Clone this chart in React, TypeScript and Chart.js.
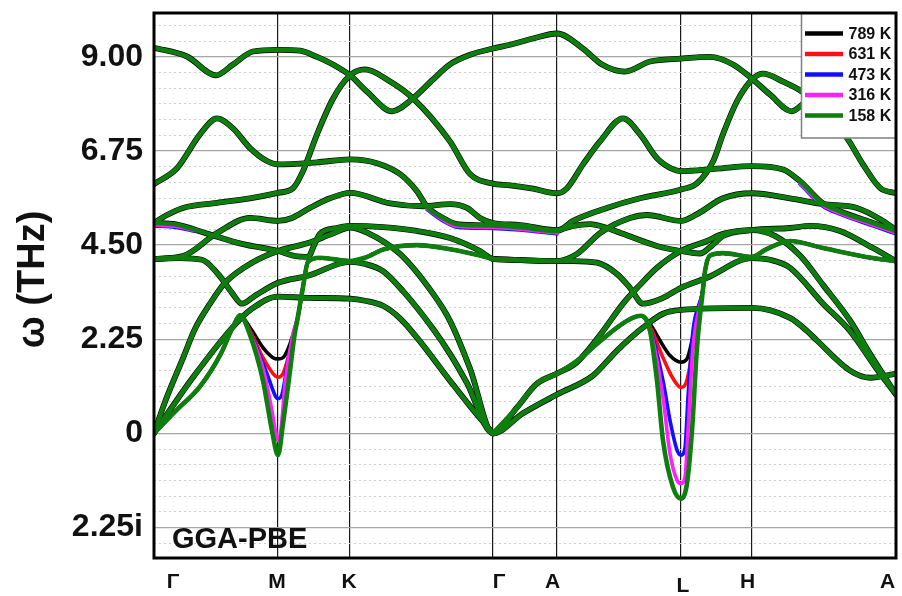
import React, { useEffect, useRef } from 'react';
import { Chart, registerables } from 'chart.js';

Chart.register(...registerables);

type Pt = [number, number];

// Path coordinate (arbitrary path-length units, 0..100) of the high-symmetry points
const symmetryPoints = [16.71, 26.42, 45.69, 54.31, 71.02, 80.59];
const pathLabels = ['Γ', 'M', 'K', 'Γ', 'A', 'L', 'H', 'A'];
const pathLabelPos = [2.56, 16.58, 26.28, 46.5, 53.71, 71.29, 79.99, 98.85];

// Frequency axis (THz); negative values are imaginary frequencies
const yMajorTicks = [-2.25, 0, 2.25, 4.5, 6.75, 9];
const yMinorTicks = [
  -2.625, -1.875, -1.5, -1.125, -0.75, -0.375, 0.375, 0.75, 1.125, 1.5, 1.875,
  2.625, 3.0, 3.375, 3.75, 4.125, 4.875, 5.25, 5.625, 6.0, 6.375, 7.125, 7.5,
  7.875, 8.25, 8.625, 9.375, 9.75,
];

const temperatures = ['789 K', '631 K', '473 K', '316 K', '158 K'];

// Phonon branches that are (nearly) the same at every temperature: [path position, THz]
const band1: Pt[] = [
  [0, 9.22], [4.45, 9.01], [8.36, 8.56], [10.65, 8.82], [13.34, 9.13], [16.71, 9.17],
  [19.68, 9.15], [21.97, 9.0], [24.12, 8.82], [26.42, 8.56], [28.71, 8.17], [32.08, 7.7],
  [34.91, 8.01], [37.6, 8.46], [39.89, 8.82], [42.59, 9.05], [45.69, 9.2], [47.98, 9.29],
  [51.08, 9.44], [54.31, 9.56], [57.82, 9.2], [60.38, 8.82], [63.48, 8.65], [66.85, 8.89],
  [71.02, 8.96], [74.93, 9.0], [78.03, 8.82], [80.59, 8.48], [83.02, 8.1], [85.98, 7.7],
  [87.33, 7.86], [91.11, 8.55], [95.15, 9.2], [100, 9.53],
];
const band2: Pt[] = [
  [0, 5.03], [1.75, 5.22], [3.91, 5.39], [8.49, 5.51], [12.94, 5.62], [16.71, 5.75],
  [18.73, 5.86], [20.08, 6.27], [21.97, 7.15], [24.12, 8.0], [26.42, 8.56], [28.44, 8.7],
  [31.5, 8.45], [34.91, 8.01], [39.89, 6.98], [42.59, 6.2], [45.69, 5.97], [47.98, 5.93],
  [51.08, 5.85], [54.31, 5.74], [55.66, 5.86], [57.82, 6.43], [60.11, 6.98], [63.21, 7.53],
  [65.5, 7.15], [67.79, 6.58], [70.0, 6.31], [71.02, 6.27], [75.88, 6.33], [80.59, 6.39],
  [84.77, 6.31], [87.06, 6.03], [90.16, 5.5], [92.45, 5.31], [96.9, 5.03], [100, 4.84],
];
const band3: Pt[] = [
  [0, 5.96], [3.1, 6.34], [6.2, 7.15], [8.49, 7.53], [10.65, 7.29], [12.94, 6.82],
  [15.23, 6.51], [16.71, 6.43], [21.97, 6.48], [26.42, 6.55], [30.05, 6.46], [33.15, 6.2],
  [35.44, 5.79], [36.79, 5.42], [38.95, 5.15], [40.84, 5.0], [45.69, 4.97], [49.33, 4.93],
  [54.31, 4.84], [56.47, 5.08], [61.05, 5.39], [65.5, 5.62], [71.02, 5.83], [73.18, 5.98],
  [75.34, 6.5], [76.68, 7.15], [78.57, 7.94], [80.73, 8.48], [82.08, 8.6], [84.77, 8.41],
  [87.33, 8.17], [90.5, 7.65], [93.4, 7.06], [95.55, 6.43], [97.84, 5.87], [100, 5.74],
];
const band4: Pt[] = [
  [0, 4.17], [3.91, 4.24], [8.49, 4.79], [12.94, 5.15], [16.71, 5.08], [18.6, 5.15],
  [21.02, 5.39], [23.72, 5.62], [26.42, 5.75], [31.81, 5.5], [36.25, 5.43], [39.89, 5.48],
  [42.18, 5.39], [43.94, 5.15], [45.69, 5.03], [49.33, 4.98], [54.31, 4.86], [56.47, 4.96],
  [58.76, 5.0], [61.05, 4.91], [63.21, 4.77], [67.79, 4.48], [71.02, 4.36], [73.58, 4.3],
  [74.93, 4.45], [75.88, 4.6], [76.68, 4.72], [80.59, 4.86], [85.71, 4.91], [88.41, 4.96],
  [92.45, 4.84], [96.9, 4.43], [100, 4.12],
];
const band5: Pt[] = [
  [0, 5.03], [2.83, 5.0], [7.28, 4.77], [11.86, 4.53], [16.71, 4.36], [19.0, 4.24],
  [20.75, 4.22], [21.7, 4.55], [22.37, 4.77], [24.66, 4.91], [26.42, 4.96], [30.86, 4.93],
  [35.44, 4.84], [39.89, 4.67], [43.94, 4.36], [45.69, 4.17], [49.33, 4.14], [54.31, 4.12],
  [57.01, 4.29], [60.11, 4.79], [64.15, 5.15], [66.44, 5.22], [71.02, 5.08], [73.18, 5.24],
  [76.68, 5.62], [80.59, 5.74], [85.71, 5.62], [90.16, 5.48], [94.74, 5.39], [98.25, 5.08],
  [100, 4.86],
];
const band6: Pt[] = [
  [0, 0], [1.48, 0.75], [3.91, 1.8], [5.53, 2.5], [7.55, 3.1], [9.57, 3.6], [13.21, 4.08],
  [16.71, 4.36], [20.75, 4.55], [23.99, 4.77], [26.42, 4.92], [28.71, 4.8], [33.15, 4.29],
  [37.6, 3.34], [39.89, 2.69], [42.59, 1.55], [45.69, 0], [48.92, 0.62], [51.62, 1.19],
  [54.31, 1.43], [57.01, 1.7], [60.11, 2.35], [63.21, 3.1], [65.5, 3.55], [67.79, 3.96],
  [71.02, 4.36], [74.53, 4.6], [76.68, 4.77], [80.59, 4.86], [83.69, 4.72], [87.06, 4.25],
  [90.16, 3.55], [93.8, 2.7], [96.5, 1.9], [100, 0.93],
];
const band7: Pt[] = [
  [0, 4.17], [3.5, 4.19], [6.47, 4.15], [8.63, 3.81], [10.51, 3.36], [11.86, 3.1],
  [13.61, 3.29], [16.71, 3.6], [20.75, 3.77], [26.42, 4.1], [28.44, 4.05], [30.86, 3.88],
  [33.56, 3.4], [37.6, 2.5], [39.89, 1.9], [42.18, 1.2], [45.69, 0], [49.73, 0.48],
  [54.31, 0.93], [59.16, 1.38], [62.4, 1.98], [65.9, 2.53], [68.6, 2.86], [71.02, 2.95],
  [80.59, 3.0], [85.71, 2.76], [88.0, 2.45], [89.35, 2.22], [93.8, 1.5], [96.5, 1.33],
  [100, 1.43],
];
const band8: Pt[] = [
  [0, 0], [5.26, 1.34], [10.92, 2.6], [13.21, 2.98], [16.71, 3.27], [20.75, 3.24],
  [26.42, 3.22], [28.44, 3.17], [30.86, 3.05], [33.15, 2.75], [35.44, 2.29], [39.89, 1.26],
  [42.59, 0.65], [45.69, 0],
];
const band9: Pt[] = [
  [45.69, 4.17], [54.31, 4.12], [56.47, 4.12], [59.7, 4.08], [62.4, 3.81], [64.15, 3.48],
  [65.9, 3.1], [68.6, 3.24], [71.02, 3.48], [74.53, 3.72], [80.59, 4.19], [83.02, 4.15],
  [85.71, 3.96], [90.16, 3.1], [93.8, 2.45], [97.17, 1.6], [100, 0.93],
];

// Small downward shifts of a few optical branches at 473 K and 316 K
const shift473: Pt[][] = [
  [[36.79, 5.35], [38.95, 5.08], [40.84, 4.93], [45.69, 4.9], [49.33, 4.86], [54.31, 4.77]],
  [[0, 4.96], [2.83, 4.93], [5.5, 4.83]],
  [[87.06, 5.96], [90.16, 5.43], [92.45, 5.24], [96.9, 4.96], [100, 4.77]],
];
const shift316: Pt[][] = [
  [[36.79, 5.37], [38.95, 5.1], [40.84, 4.95], [45.69, 4.92], [49.33, 4.88], [54.31, 4.79]],
  [[0, 4.98], [2.83, 4.95], [5.5, 4.85]],
  [[87.06, 5.98], [90.16, 5.45], [92.45, 5.26], [96.9, 4.98], [100, 4.79]],
];

// Soft branch around M: shared flanks plus the temperature-dependent dip
const softMLeft: Pt[] = [[0, 0], [3.0, 0.55], [6.2, 1.12], [9.0, 1.9], [10.65, 2.55], [11.59, 2.82]];
const softMRight: Pt[] = [
  [19.41, 2.8], [20.08, 3.5], [20.75, 4.1], [22.37, 4.2], [26.42, 4.12], [28.44, 4.2],
  [31.0, 4.4], [35.44, 4.5], [39.89, 4.4], [43.94, 4.25], [45.69, 4.17],
];
const dipM789: Pt[] = [[12.94, 2.53], [14.69, 2.05], [16.04, 1.81], [16.71, 1.78], [17.39, 1.81], [18.33, 2.14]];
const dipM631: Pt[] = [[12.94, 2.45], [14.69, 1.81], [16.04, 1.43], [16.71, 1.34], [17.39, 1.43], [18.33, 1.98]];
const dipM473: Pt[] = [[12.94, 2.4], [15.23, 1.43], [16.31, 0.91], [16.71, 0.83], [17.25, 0.93], [18.06, 1.74]];
const dipM316: Pt[] = [[12.94, 2.38], [14.69, 1.55], [15.63, 0.79], [16.44, 0.0], [16.71, -0.17], [17.12, 0.1], [17.66, 1.19], [18.73, 2.38]];
const dipM158: Pt[] = [[12.94, 2.35], [14.69, 1.26], [15.9, 0.07], [16.71, -0.52], [17.39, 0.24], [18.33, 1.5], [18.9, 2.3]];

// Soft branch around L
const softLLeft: Pt[] = [[45.69, 0], [48.92, 0.62], [51.62, 1.19], [54.31, 1.43], [57.5, 1.8], [60.11, 2.2], [62.8, 2.58], [64.5, 2.76], [65.63, 2.81]];
const softLRight: Pt[] = [
  [73.99, 3.45], [74.26, 3.88], [74.93, 4.25], [76.68, 4.31], [80.59, 4.22], [82.5, 4.4],
  [85.71, 4.6], [90.16, 4.43], [96.9, 4.19], [100, 4.12],
];
const dipL789: Pt[] = [[66.85, 2.62], [68.19, 2.22], [69.54, 1.86], [71.02, 1.7], [71.83, 1.78], [72.51, 2.22], [73.18, 2.86]];
const dipL631: Pt[] = [[66.85, 2.55], [68.6, 1.81], [69.95, 1.31], [71.02, 1.1], [71.7, 1.2], [72.51, 1.9], [73.18, 2.75]];
const dipL473: Pt[] = [[66.85, 2.5], [68.6, 1.26], [69.54, 0.31], [70.49, -0.4], [71.02, -0.52], [71.56, -0.35], [71.97, 0.86], [72.64, 2.45]];
const dipL316: Pt[] = [[66.85, 2.48], [68.6, 0.86], [69.54, -0.48], [70.49, -1.12], [71.02, -1.2], [71.56, -1.05], [71.97, 0.07], [72.64, 2.05]];
const dipL158: Pt[] = [[66.85, 2.45], [67.79, 1.26], [68.6, -0.17], [69.95, -1.29], [71.02, -1.56], [71.83, -1.2], [72.51, 0.07], [73.18, 2.05]];

const commonBands = [band1, band2, band3, band4, band5, band6, band7, band8, band9];
const dipsM = [dipM789, dipM631, dipM473, dipM316, dipM158];
const dipsL = [dipL789, dipL631, dipL473, dipL316, dipL158];

const lineColors = ['#000000', '#ff1010', '#1010ff', '#ff20ff', '#0e7e0e'];
const FONT = '"Liberation Sans", Arial, Helvetica, sans-serif';

const toXY = (pts: Pt[]) => pts.map(([x, y]) => ({ x, y }));

function buildDatasets() {
  const sets: any[] = [];
  temperatures.forEach((label, i) => {
    const base = {
      label,
      borderColor: lineColors[i],
      borderWidth: i === 4 ? 4.6 : 3.6,
      pointRadius: 0,
      fill: false,
      cubicInterpolationMode: 'monotone',
      borderCapStyle: 'round',
      borderJoinStyle: 'round',
      order: 4 - i,
      xAxisID: 'x',
      yAxisID: 'y',
    };
    sets.push({ ...base, data: toXY([...softMLeft, ...dipsM[i], ...softMRight]) });
    sets.push({ ...base, data: toXY([...softLLeft, ...dipsL[i], ...softLRight]) });
    // the hottest set sits underneath everything and gives the branches a dark rim
    if (i === 0) commonBands.forEach((b) => sets.push({ ...base, borderWidth: 5.8, data: toXY(b) }));
    if (i === 2) shift473.forEach((b) => sets.push({ ...base, data: toXY(b) }));
    if (i === 3) shift316.forEach((b) => sets.push({ ...base, data: toXY(b) }));
    if (i === 4) commonBands.forEach((b) => sets.push({ ...base, data: toXY(b) }));
  });
  return sets;
}

const noEdgePadding = (s: any) => {
  s.paddingTop = 0;
  s.paddingBottom = 0;
  s.paddingLeft = 0;
  s.paddingRight = 0;
};

const decorations = {
  id: 'decorations',
  afterDatasetsDraw(chart: any) {
    const { ctx, chartArea: a, scales } = chart;
    const xs = scales.x;
    ctx.save();

    // legend box in the upper-right corner
    const boxL = a.right - 94.5;
    const boxB = a.top + 125;
    ctx.fillStyle = '#ffffff';
    ctx.fillRect(boxL, a.top, a.right - boxL, boxB - a.top);
    ctx.strokeStyle = '#808080';
    ctx.lineWidth = 1.5;
    ctx.strokeRect(boxL, a.top, a.right - boxL, boxB - a.top);
    ctx.font = `bold 16px ${FONT}`;
    ctx.textAlign = 'left';
    ctx.textBaseline = 'middle';
    temperatures.forEach((t, i) => {
      const yy = a.top + 20.5 + i * 20.5;
      ctx.strokeStyle = lineColors[i];
      ctx.lineWidth = 4.6;
      ctx.lineCap = 'butt';
      ctx.beginPath();
      ctx.moveTo(boxL + 3.5, yy);
      ctx.lineTo(boxL + 41.5, yy);
      ctx.stroke();
      ctx.fillStyle = '#111';
      ctx.fillText(t, boxL + 47, yy + 1);
    });

    // plot frame
    ctx.strokeStyle = '#000';
    ctx.lineWidth = 3;
    ctx.strokeRect(a.left, a.top, a.right - a.left, a.bottom - a.top);

    // method tag
    ctx.fillStyle = '#111';
    ctx.font = `bold 29px ${FONT}`;
    ctx.textAlign = 'left';
    ctx.textBaseline = 'alphabetic';
    ctx.fillText('GGA-PBE', a.left + 18, a.bottom - 10);

    // high-symmetry point labels
    ctx.font = `bold 21px ${FONT}`;
    ctx.textAlign = 'center';
    pathLabels.forEach((t, i) => {
      const px = xs.getPixelForValue(pathLabelPos[i]);
      ctx.fillText(t, px, a.bottom + 30 + (t === 'L' ? 4 : 0));
    });

    // axis title
    ctx.translate(43.5, (a.top + a.bottom) / 2 - 6);
    ctx.rotate(-Math.PI / 2);
    ctx.font = `bold 38px ${FONT}`;
    ctx.textAlign = 'center';
    ctx.fillText('ω (THz)', 0, 0);
    ctx.restore();
  },
};

export default function App() {
  const canvasRef = useRef<HTMLCanvasElement | null>(null);

  useEffect(() => {
    const canvas = canvasRef.current;
    if (!canvas) return;
    const chart = new Chart(canvas, {
      type: 'line',
      data: { datasets: buildDatasets() },
      options: {
        responsive: false,
        animation: false,
        devicePixelRatio: 1,
        events: [],
        layout: { padding: { left: 0, top: 13, right: 6, bottom: 0 } },
        plugins: { legend: { display: false }, tooltip: { enabled: false } },
        scales: {
          x: {
            type: 'linear',
            min: 0,
            max: 100,
            afterBuildTicks: (s: any) => {
              s.ticks = symmetryPoints.map((v) => ({ value: v }));
            },
            afterFit: (s: any) => {
              s.height = 38;
              noEdgePadding(s);
            },
            grid: { color: '#1a1a1a', lineWidth: 1.2, drawTicks: false },
            border: { display: false },
            ticks: { display: false },
          },
          y: {
            type: 'linear',
            position: 'left',
            min: -2.98,
            max: 10.05,
            afterBuildTicks: (s: any) => {
              s.ticks = yMajorTicks.map((v) => ({ value: v }));
            },
            afterFit: (s: any) => {
              s.width = 154;
              noEdgePadding(s);
            },
            grid: { color: '#a6a6a6', lineWidth: 1.3, drawTicks: false },
            border: { display: false },
            ticks: {
              padding: 11,
              color: '#111',
              autoSkip: false,
              font: { family: FONT, size: 32, weight: 'bold' },
              callback: (v: any) => {
                const n = Number(v);
                if (n < 0) return `${Math.abs(n).toFixed(2)}i`;
                if (n === 0) return '0';
                return n.toFixed(2);
              },
            },
          },
          yMinor: {
            type: 'linear',
            position: 'left',
            min: -2.98,
            max: 10.05,
            afterBuildTicks: (s: any) => {
              s.ticks = yMinorTicks.map((v) => ({ value: v }));
            },
            afterFit: (s: any) => {
              s.width = 0;
              noEdgePadding(s);
            },
            grid: { color: '#cfcfcf', lineWidth: 1, drawTicks: false },
            border: { display: false, dash: [2, 3] },
            ticks: { display: false, autoSkip: false },
          },
        },
      } as any,
      plugins: [decorations],
    });
    return () => chart.destroy();
  }, []);

  return (
    <div style={{ position: 'absolute', left: 0, top: 0, width: 902, height: 596, background: '#fff' }}>
      <canvas ref={canvasRef} width={902} height={596} style={{ width: 902, height: 596, display: 'block' }} />
    </div>
  );
}
